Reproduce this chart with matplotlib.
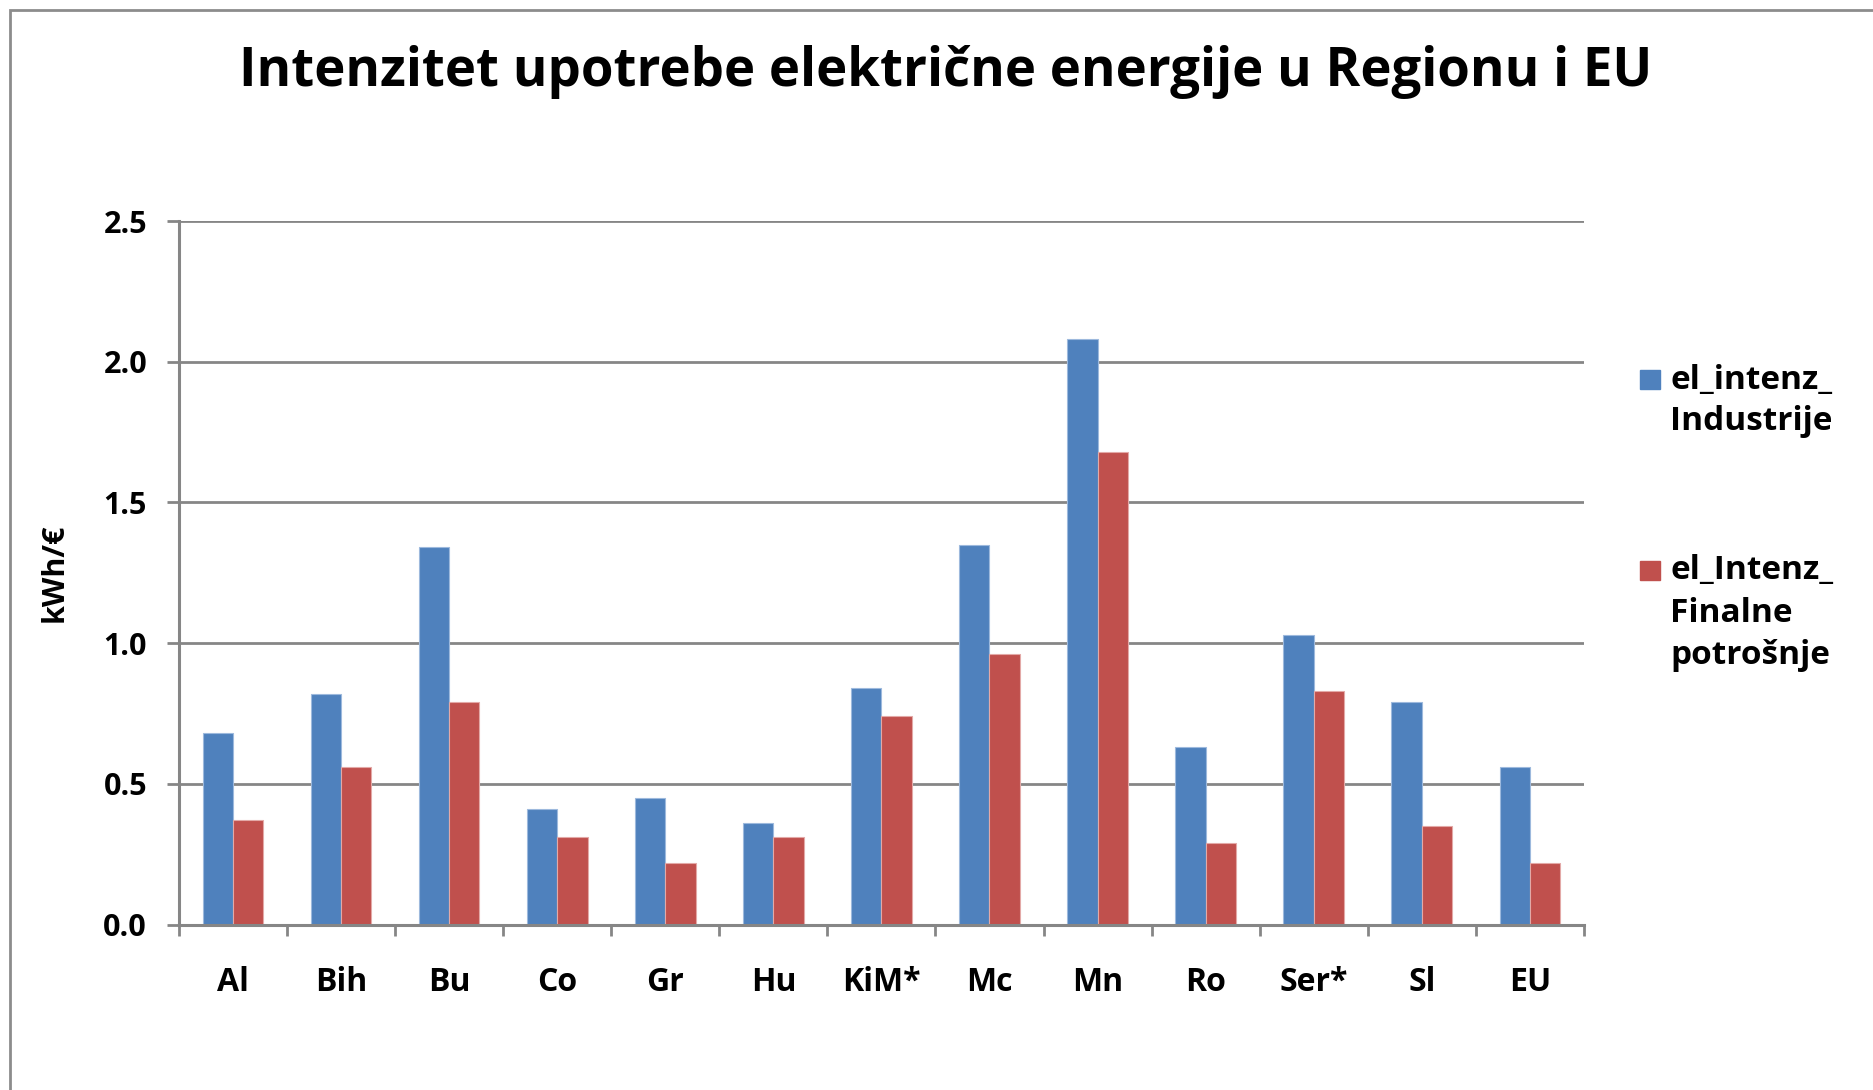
import matplotlib
matplotlib.use("Agg")
import matplotlib.pyplot as plt
from matplotlib.patches import Rectangle
import numpy as np

# data
countries = ["Al", "Bih", "Bu", "Co", "Gr", "Hu", "KiM*", "Mc", "Mn", "Ro", "Ser*", "Sl", "EU"]
industrija = [0.68, 0.82, 1.34, 0.41, 0.45, 0.36, 0.84, 1.35, 2.08, 0.63, 1.03, 0.79, 0.56]
finalna = [0.37, 0.56, 0.79, 0.31, 0.22, 0.31, 0.74, 0.96, 1.68, 0.29, 0.83, 0.35, 0.22]

label_ind = ["el_intenz_", "Industrije"]
label_fin = ["el_Intenz_", "Finalne", "potrošnje"]

blue = "#4F81BD"
red = "#C0504D"
grey = "#868686"

plt.rcParams["font.family"] = ["Open Sans", "DejaVu Sans"]
plt.rcParams["font.weight"] = "bold"

fig = plt.figure(figsize=(18.73, 10.90), dpi=100)
ax = fig.add_axes([0.0956, 0.1518, 0.750, 0.6454])

x = np.arange(len(countries))
w = 0.28
ax.bar(x - w / 2, industrija, w, color=blue, edgecolor="#9DB9DD", linewidth=0.8, zorder=3)
ax.bar(x + w / 2, finalna, w, color=red, edgecolor="#E3A9A7", linewidth=0.8, zorder=3)

ax.set_xlim(-0.5, len(countries) - 0.5)
ax.set_ylim(0, 2.5)
ax.set_yticks(np.arange(0, 2.51, 0.5))
ax.set_yticklabels([f"{v:.1f}" for v in np.arange(0, 2.51, 0.5)], fontsize=22, fontweight="bold")
ax.set_xticks(x)
ax.set_xticklabels(countries, fontsize=23, fontweight="bold")
ax.set_xticks(np.arange(-0.5, len(countries)), minor=True)

ax.tick_params(axis="x", which="major", length=0, pad=30)
ax.tick_params(axis="x", which="minor", length=8, width=2, color=grey)
ax.tick_params(axis="y", which="major", length=9, width=2, color=grey, pad=14)

ax.grid(axis="y", color=grey, linewidth=2, zorder=0)
for s in ["top", "right"]:
    ax.spines[s].set_visible(False)
for s in ["left", "bottom"]:
    ax.spines[s].set_color(grey)
    ax.spines[s].set_linewidth(2.2)
    ax.spines[s].set_zorder(4)

ax.set_ylabel("kWh/€", fontsize=22, fontweight="bold", labelpad=24)

fig.text(0.505, 0.934, "Intenzitet upotrebe električne energije u Regionu i EU",
         ha="center", va="center", fontsize=38, fontweight="bold")

# legend drawn by hand so the squares sit on the first line
fig.patches.append(Rectangle((1640 / 1873, 1 - 389 / 1090), 20 / 1873, 19 / 1090,
                             transform=fig.transFigure, color=blue))
fig.patches.append(Rectangle((1640 / 1873, 1 - 580 / 1090), 20 / 1873, 19 / 1090,
                             transform=fig.transFigure, color=red))
for i, line in enumerate(label_ind):
    fig.text(1670 / 1873, 1 - (380 + 41 * i) / 1090, line, ha="left", va="center",
             fontsize=24, fontweight="bold")
for i, line in enumerate(label_fin):
    fig.text(1670 / 1873, 1 - (571 + 42 * i) / 1090, line, ha="left", va="center",
             fontsize=24, fontweight="bold")

# outer chart frame
fig.patches.append(Rectangle((10 / 1873, -0.05), 1.1, 1.05 - 10 / 1090,
                             transform=fig.transFigure, fill=False,
                             edgecolor="#8C8C8C", linewidth=2))

fig.savefig("out.png", dpi=100)
